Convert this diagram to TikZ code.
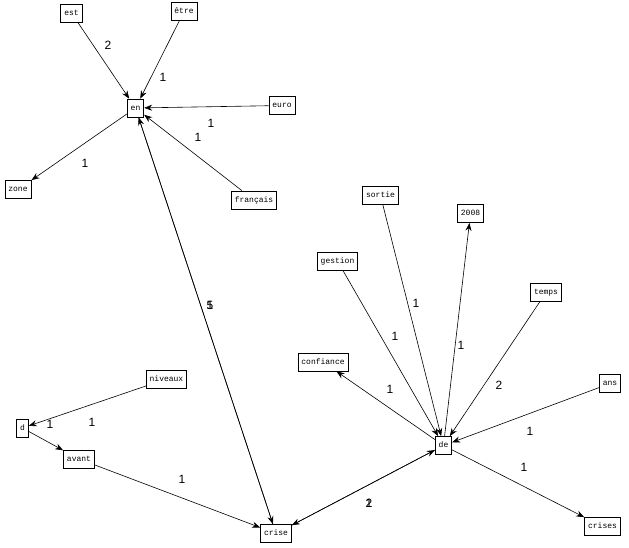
\documentclass[tikz,border=0pt]{standalone}
\usepackage{fontspec}
\setmainfont{Liberation Sans}
\newfontfamily\boxfont{Liberation Mono}
\usetikzlibrary{arrows.meta}
\tikzset{
  wbox/.style={draw, line width=0.7pt, font=\boxfont\fontsize{8}{9}\selectfont, inner xsep=3.5pt, inner ysep=0pt, minimum height=18pt, text height=5pt, text depth=1pt},
  lnk/.style={line width=0.6pt, -{Stealth[length=8pt,width=6pt]}},
  wlab/.style={font=\fontsize{12}{12}\selectfont, inner sep=0pt}
}
\begin{document}
\begin{tikzpicture}[x=1pt,y=-1pt]
\useasboundingbox (0,0) rectangle (629,547);
\node[wbox] (est) at (71.5,13) {est};
\node[wbox] (etre) at (184,11.5) {être};
\node[wbox] (en) at (135.5,108) {en};
\node[wbox] (euro) at (282,105.5) {euro};
\node[wbox] (zone) at (18,189.5) {zone};
\node[wbox] (fr) at (254,200) {français};
\node[wbox] (sortie) at (380.5,195.5) {sortie};
\node[wbox] (y2008) at (470.5,213.5) {2008};
\node[wbox] (gestion) at (337.5,261) {gestion};
\node[wbox] (temps) at (546,292.5) {temps};
\node[wbox] (confiance) at (323,362) {confiance};
\node[wbox] (ans) at (610,383.5) {ans};
\node[wbox] (de) at (443.5,445.5) {de};
\node[wbox] (crises) at (602.5,526.5) {crises};
\node[wbox] (niveaux) at (166.5,379) {niveaux};
\node[wbox] (d) at (22.5,428) {d};
\node[wbox] (avant) at (79,459) {avant};
\node[wbox] (crise) at (276,533.5) {crise};

\draw[lnk] (est) -- (en);
\draw[lnk] (etre) -- (en);
\draw[lnk] (euro) -- (en);
\draw[lnk] (fr) -- (en);
\draw[lnk] (en) -- (zone);
\draw[lnk] (en) -- (crise);
\draw[lnk] (crise) -- (en);
\draw[lnk] (sortie) -- (de);
\draw[lnk] (gestion) -- (de);
\draw[lnk] (temps) -- (de);
\draw[lnk] (ans) -- (de);
\draw[lnk] (de) -- (y2008);
\draw[lnk] (de) -- (confiance);
\draw[lnk] (de) -- (crises);
\draw[lnk] (crise) -- (de);
\draw[lnk] (de) -- (crise);
\draw[lnk] (niveaux) -- (d);
\draw[lnk] (d) -- (avant);
\draw[lnk] (avant) -- (crise);

\node[wlab] (l1) at (108,45) {2};
\node[wlab] (l2) at (163,77) {1};
\node[wlab] (l3) at (211,123) {1};
\node[wlab] (l4) at (198,137) {1};
\node[wlab] (l5) at (85,163) {1};
\node[wlab] (l6) at (210,305) {5};
\node[wlab] (l7) at (210,305) {1};
\node[wlab] (l8) at (416,303) {1};
\node[wlab] (l9) at (395,336) {1};
\node[wlab] (l10) at (461,345) {1};
\node[wlab] (l11) at (499,385) {2};
\node[wlab] (l12) at (390,389) {1};
\node[wlab] (l13) at (530,431) {1};
\node[wlab] (l14) at (524,467) {1};
\node[wlab] (l15) at (369,503) {2};
\node[wlab] (l16) at (369,503) {1};
\node[wlab] (l17) at (92,422) {1};
\node[wlab] (l18) at (50,424) {1};
\node[wlab] (l19) at (182,479) {1};
\end{tikzpicture}
\end{document}
